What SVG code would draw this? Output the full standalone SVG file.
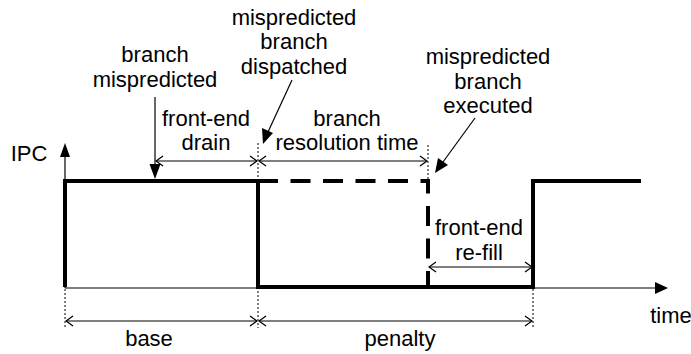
<svg xmlns="http://www.w3.org/2000/svg" width="691" height="354" viewBox="0 0 691 354">
  <style>
    text { font-family: "Liberation Sans", Arial, sans-serif; font-size: 22px; fill: #000; text-anchor: middle; }
    .thin { fill: none; stroke: #000; stroke-width: 1.2; }
    .dot { fill: none; stroke: #000; stroke-width: 1; stroke-dasharray: 2 2; }
    .thick { fill: none; stroke: #000; stroke-width: 4; stroke-linejoin: miter; }
    .dash { fill: none; stroke: #000; stroke-width: 4; stroke-dasharray: 20 12.5; }
    .head { fill: #000; stroke: none; }
  </style>
  <defs>
    <marker id="open" viewBox="0 0 10 12" refX="9" refY="6" markerWidth="10" markerHeight="12" markerUnits="userSpaceOnUse" orient="auto-start-reverse">
      <path d="M2,1 L9,6 L2,11" fill="none" stroke="#000" stroke-width="1.3"/>
    </marker>
  </defs>

  <!-- axes -->
  <g id="axes">
    <line class="thin" x1="65" y1="288" x2="65" y2="155"/>
    <polygon class="head" points="65,143 60,157 70,157"/>
    <line class="thin" x1="65" y1="288" x2="656" y2="288"/>
    <polygon class="head" points="668,288 655,282 655,294"/>
    <text x="29" y="161">IPC</text>
    <text x="671" y="323">time</text>
  </g>

  <!-- IPC trace -->
  <g id="ipc-trace">
    <path class="thick" d="M65,287 V181 H258 V287 H533 V181 H641"/>
    <path class="dash" d="M258,181 H428 V287"/>
  </g>

  <!-- guide lines -->
  <g id="guides">
    <line class="dot" x1="65" y1="289" x2="65" y2="328"/>
    <line class="dot" x1="258" y1="143" x2="258" y2="328"/>
    <line class="dot" x1="428" y1="145" x2="428" y2="181"/>
    <line class="dot" x1="533" y1="289" x2="533" y2="328"/>
  </g>

  <!-- connectors: interval spans and pointers -->
  <g id="connectors">
    <line class="thin" x1="156" y1="161" x2="257" y2="161" marker-start="url(#open)" marker-end="url(#open)"/>
    <line class="thin" x1="259" y1="161" x2="427" y2="161" marker-start="url(#open)" marker-end="url(#open)"/>
    <line class="thin" x1="429" y1="267" x2="532" y2="267" marker-start="url(#open)" marker-end="url(#open)"/>
    <line class="thin" x1="66" y1="321" x2="257" y2="321" marker-start="url(#open)" marker-end="url(#open)"/>
    <line class="thin" x1="259" y1="321" x2="532" y2="321" marker-start="url(#open)" marker-end="url(#open)"/>

    <line class="thin" x1="155" y1="97" x2="155" y2="165"/>
    <polygon class="head" points="155,179 149.5,164 160.5,164"/>

    <line class="thin" x1="292" y1="80" x2="268" y2="132"/>
    <polygon class="head" points="263,144 262,128 273,133"/>

    <line class="thin" x1="475" y1="118" x2="443" y2="162"/>
    <polygon class="head" points="435,173 438,158 448,165"/>
  </g>

  <!-- labels -->
  <g id="label-mispredicted">
    <text x="155" y="62">branch</text>
    <text x="155" y="87">mispredicted</text>
  </g>
  <g id="label-dispatched">
    <text x="294" y="25">mispredicted</text>
    <text x="294" y="49">branch</text>
    <text x="294" y="74">dispatched</text>
  </g>
  <g id="label-executed">
    <text x="488" y="64">mispredicted</text>
    <text x="488" y="89">branch</text>
    <text x="488" y="113">executed</text>
  </g>
  <g id="label-drain">
    <text x="206" y="126">front-end</text>
    <text x="206" y="150">drain</text>
  </g>
  <g id="label-resolution">
    <text x="347" y="126">branch</text>
    <text x="347" y="150">resolution time</text>
  </g>
  <g id="label-refill">
    <text x="479" y="235">front-end</text>
    <text x="479" y="260">re-fill</text>
  </g>
  <g id="label-base">
    <text x="149" y="346">base</text>
  </g>
  <g id="label-penalty">
    <text x="400" y="346">penalty</text>
  </g>
</svg>
